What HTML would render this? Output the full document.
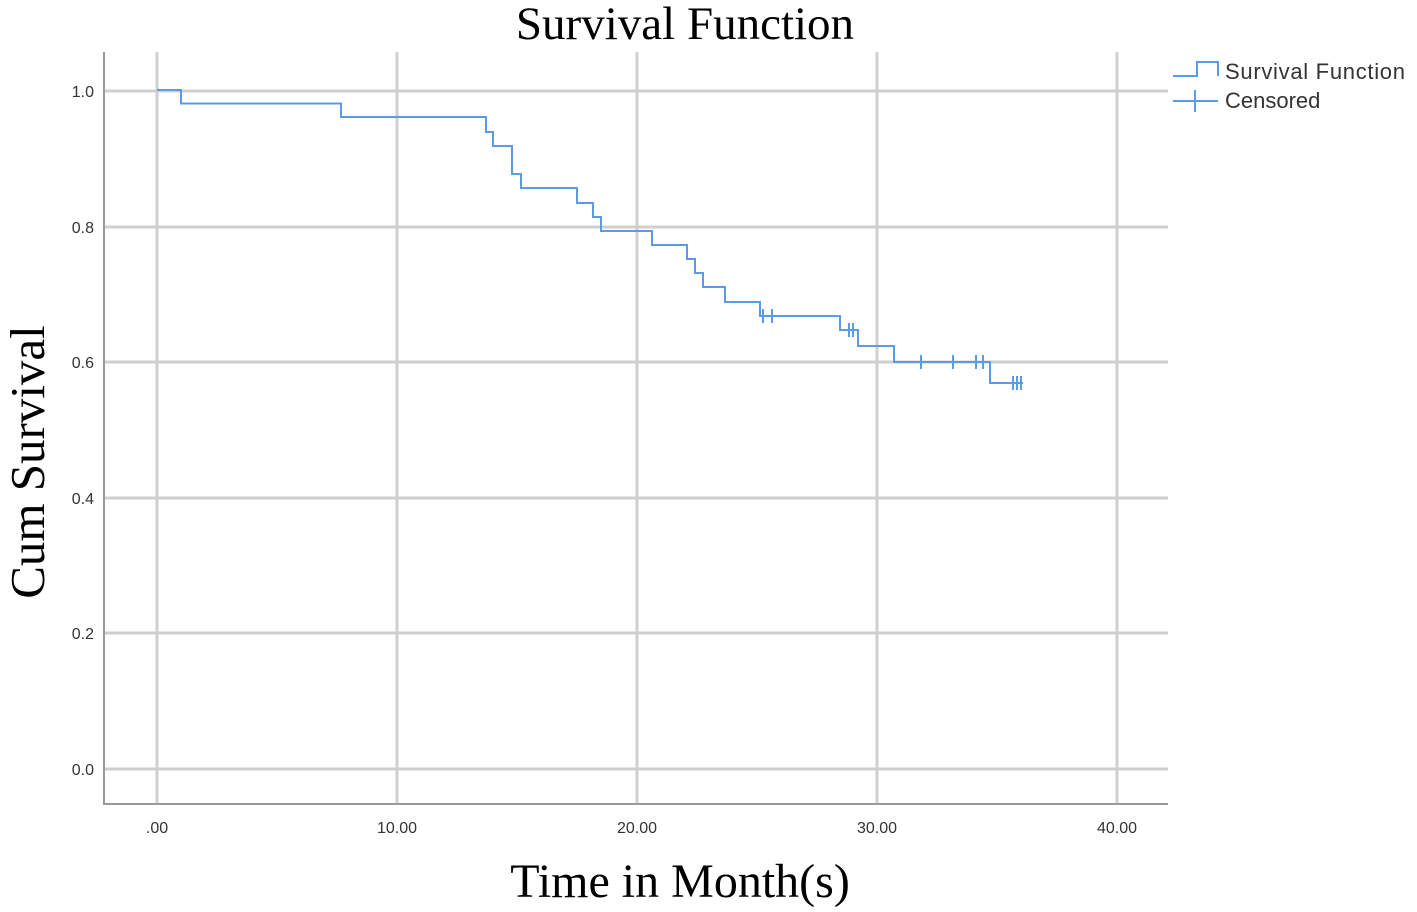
<!DOCTYPE html><html><head><style>body{margin:0;background:#fff}svg{display:block}</style></head><body>
<svg width="1417" height="912" xmlns="http://www.w3.org/2000/svg">
<rect width="1417" height="912" fill="#fff"/>
<g stroke="#cfcfcf" stroke-width="3">
<line x1="104" y1="91" x2="1168" y2="91"/><line x1="104" y1="227" x2="1168" y2="227"/>
<line x1="104" y1="362" x2="1168" y2="362"/><line x1="104" y1="498" x2="1168" y2="498"/>
<line x1="104" y1="633" x2="1168" y2="633"/><line x1="104" y1="769" x2="1168" y2="769"/>
<line x1="157" y1="52" x2="157" y2="804"/><line x1="397" y1="52" x2="397" y2="804"/>
<line x1="637" y1="52" x2="637" y2="804"/><line x1="877" y1="52" x2="877" y2="804"/>
<line x1="1117" y1="52" x2="1117" y2="804"/>
</g>
<path d="M104 52V804H1168" fill="none" stroke="#999" stroke-width="2"/>
<g font-family="Liberation Sans,sans-serif" font-size="16" fill="#333">
<text x="94" y="97" text-anchor="end">1.0</text><text x="94" y="233" text-anchor="end">0.8</text>
<text x="94" y="368" text-anchor="end">0.6</text><text x="94" y="504" text-anchor="end">0.4</text>
<text x="94" y="639" text-anchor="end">0.2</text><text x="94" y="775" text-anchor="end">0.0</text>
<text x="157" y="833" text-anchor="middle">.00</text><text x="397" y="833" text-anchor="middle">10.00</text>
<text x="637" y="833" text-anchor="middle">20.00</text><text x="877" y="833" text-anchor="middle">30.00</text>
<text x="1117" y="833" text-anchor="middle">40.00</text>
</g>
<g font-family="Liberation Serif,serif" fill="#000">
<text x="685" y="39" text-anchor="middle" font-size="47">Survival Function</text>
<text x="680" y="897" text-anchor="middle" font-size="48">Time in Month(s)</text>
<text transform="translate(44,462) rotate(-90)" text-anchor="middle" font-size="49">Cum Survival</text>
</g>
<path d="M157 90H181V103.5H341V117H486V132H493V146H512V174H521V188H577V203H593V217H601V231H652V245H687V259H695V273H703V287H725V302H760V316H840V330H858V346H894V362H990V383H1023" fill="none" stroke="#5b9be6" stroke-width="2"/>
<g stroke="#5b9be6" stroke-width="2">
<path d="M763 309v14M772 309v14M849 323v14M853 323v14M921 355v14M953 355v14M976 355v14M983 355v14M1013 376v14M1017 376v14M1021 376v14"/>
</g>
<g font-family="Liberation Sans,sans-serif" font-size="22" fill="#333">
<path d="M1173 76H1197V62H1218V76" fill="none" stroke="#5b9be6" stroke-width="2"/>
<text x="1225" y="79" textLength="180">Survival Function</text>
<path d="M1173 101H1218M1195 90V112" stroke="#5b9be6" stroke-width="2"/>
<text x="1225" y="108">Censored</text>
</g>
</svg>
</body></html>
